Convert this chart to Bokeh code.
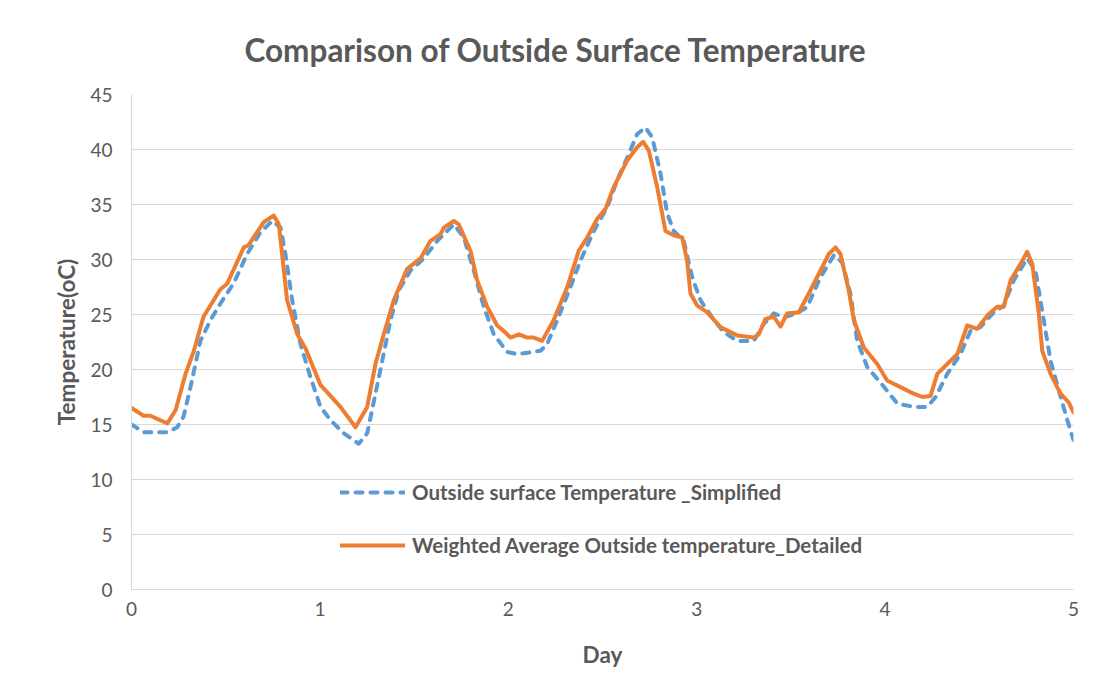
from bokeh.plotting import figure
from bokeh.models import Legend, LegendItem, FixedTicker
from bokeh.embed import file_html
from bokeh.resources import INLINE

# ---- data ----
simp_day = [0.0, 0.064, 0.19, 0.243, 0.276, 0.313, 0.366, 0.419, 0.472, 0.541, 0.614, 0.685, 0.747,
            0.791, 0.817, 0.853, 0.897, 0.950, 1.003, 1.056, 1.127, 1.206, 1.251, 1.295, 1.331, 1.375,
            1.419, 1.481, 1.551, 1.623, 1.711, 1.764, 1.817, 1.870, 1.923, 1.994, 2.047, 2.135, 2.171,
            2.206, 2.260, 2.330, 2.383, 2.454, 2.525, 2.578, 2.640, 2.684, 2.728, 2.764, 2.808, 2.843,
            2.878, 2.931, 2.976, 3.020, 3.091, 3.144, 3.215, 3.303, 3.356, 3.409, 3.462, 3.533, 3.587,
            3.657, 3.729, 3.772, 3.816, 3.852, 3.906, 3.976, 4.065, 4.152, 4.223, 4.268, 4.330, 4.400,
            4.453, 4.506, 4.577, 4.630, 4.683, 4.754, 4.798, 4.842, 4.878, 4.922, 4.967, 5.0]
simp_temp = [15.0, 14.3, 14.3, 14.75, 15.7, 18.4, 22.6, 24.5, 26.0, 27.8, 30.5, 32.5, 33.5,
             32.9, 30.5, 26.3, 22.3, 19.3, 16.6, 15.4, 14.2, 13.25, 14.2, 17.8, 20.8, 24.5,
             27.2, 29.0, 30.1, 31.7, 33.2, 32.0, 29.0, 25.7, 23.2, 21.6, 21.4, 21.6, 21.7,
             22.3, 24.5, 27.5, 29.9, 32.6, 34.75, 37.2, 39.6, 41.4, 42.0, 41.1, 37.8, 34.2,
             32.6, 31.7, 28.4, 26.3, 24.5, 23.4, 22.6, 22.6, 24.15, 25.1, 24.75, 25.1, 25.7,
             28.4, 30.4, 29.75, 26.9, 22.6, 20.2, 18.8, 16.9, 16.6, 16.6, 17.5, 19.6, 21.4,
             23.5, 23.85, 25.2, 25.8, 28.1, 30.1, 29.0, 24.5, 20.8, 18.1, 15.4, 13.6]

det_day = [0.0, 0.064, 0.10, 0.19, 0.234, 0.287, 0.331, 0.382, 0.472, 0.508, 0.596, 0.621, 0.702,
           0.755, 0.782, 0.826, 0.880, 0.924, 1.003, 1.109, 1.189, 1.251, 1.295, 1.339, 1.392, 1.463,
           1.534, 1.587, 1.640, 1.658, 1.711, 1.737, 1.799, 1.835, 1.888, 1.941, 1.976, 2.012, 2.056,
           2.100, 2.135, 2.180, 2.241, 2.313, 2.374, 2.419, 2.472, 2.516, 2.560, 2.631, 2.684, 2.716,
           2.746, 2.790, 2.834, 2.878, 2.923, 2.949, 2.967, 3.003, 3.056, 3.126, 3.179, 3.215, 3.303,
           3.330, 3.365, 3.409, 3.445, 3.480, 3.542, 3.604, 3.657, 3.701, 3.737, 3.763, 3.807, 3.834,
           3.887, 3.958, 4.011, 4.082, 4.152, 4.197, 4.241, 4.277, 4.330, 4.383, 4.436, 4.489, 4.542,
           4.595, 4.630, 4.666, 4.719, 4.754, 4.781, 4.816, 4.834, 4.878, 4.931, 4.975, 5.0]
det_temp = [16.5, 15.8, 15.8, 15.1, 16.3, 19.6, 21.7, 24.8, 27.3, 27.8, 31.1, 31.3, 33.4,
            34.0, 33.2, 26.3, 23.2, 21.9, 18.6, 16.6, 14.75, 16.6, 20.5, 23.2, 26.3, 29.15,
            30.1, 31.7, 32.3, 32.9, 33.5, 33.2, 30.8, 28.1, 25.7, 24.0, 23.5, 22.9, 23.2,
            22.9, 22.9, 22.6, 24.5, 27.5, 30.8, 32.0, 33.7, 34.6, 36.6, 39.0, 40.2, 40.7,
            39.9, 36.6, 32.6, 32.2, 32.0, 29.9, 26.9, 25.8, 25.2, 23.85, 23.4, 23.1, 22.9,
            23.2, 24.6, 24.8, 23.9, 25.1, 25.2, 27.2, 29.0, 30.5, 31.1, 30.5, 27.2, 24.5,
            22.0, 20.5, 19.0, 18.4, 17.8, 17.5, 17.6, 19.6, 20.5, 21.4, 24.0, 23.7, 24.9,
            25.7, 25.7, 28.1, 29.6, 30.7, 29.6, 25.1, 21.7, 19.6, 17.8, 17.0, 16.1]

y_ticks = [0, 5, 10, 15, 20, 25, 30, 35, 40, 45]
x_ticks = [0, 1, 2, 3, 4, 5]
series_names = ["Outside surface Temperature _Simplified",
                "Weighted Average Outside temperature_Detailed"]
title_text = "Comparison of Outside Surface Temperature"

FONT = "Lato"
GREY = "#595959"
GRID = "#d9d9d9"

p = figure(width=1090, height=675, output_backend="svg", toolbar_location=None,
           x_range=(0, 5), y_range=(0, 45),
           min_border_left=131, min_border_right=17, min_border_top=94, min_border_bottom=86)

p.title.text = title_text
p.title.align = "left"
p.title.offset = 113
p.title.text_font = FONT
p.title.text_font_size = "31.5px"
p.title.text_font_style = "bold"
p.title.text_color = GREY
p.title.standoff = 51

p.outline_line_color = None
p.background_fill_color = "white"
p.border_fill_color = "white"

p.xgrid.visible = False
p.ygrid.grid_line_color = GRID
p.ygrid.grid_line_width = 1

for ax in (p.xaxis[0], p.yaxis[0]):
    ax.axis_line_color = GRID
    ax.axis_line_width = 1
    ax.major_tick_line_color = None
    ax.minor_tick_line_color = None
    ax.major_label_text_font = FONT
    ax.major_label_text_font_size = "19px"
    ax.major_label_text_color = GREY
    ax.axis_label_text_font = FONT
    ax.axis_label_text_font_size = "22.5px"
    ax.axis_label_text_font_style = "bold"
    ax.axis_label_text_color = GREY

p.yaxis.ticker = FixedTicker(ticks=y_ticks)
p.xaxis.ticker = FixedTicker(ticks=x_ticks)
p.yaxis.axis_label = "Temperature(oC)"
p.xaxis.axis_label = "Day"
p.yaxis.major_label_standoff = 13
p.xaxis.major_label_standoff = 6
p.yaxis.axis_label_standoff = 7
p.xaxis.axis_label_standoff = 22

r1 = p.line(simp_day, simp_temp, line_color="#5B9BD5", line_width=4, line_dash="7 8",
            line_cap="round", line_join="round")
r2 = p.line(det_day, det_temp, line_color="#ED7D31", line_width=4,
            line_cap="round", line_join="round")

legend = Legend(items=[LegendItem(label=series_names[0], renderers=[r1]),
                       LegendItem(label=series_names[1], renderers=[r2])],
                location=(209, 31), orientation="vertical",
                glyph_width=65, glyph_height=26, label_height=26, spacing=27,
                label_standoff=7, padding=0, margin=0,
                background_fill_alpha=0, border_line_color=None,
                label_text_font=FONT, label_text_font_size="20.5px",
                label_text_font_style="bold", label_text_color=GREY)
p.add_layout(legend, "center")

open("out.html", "w").write(file_html(p, INLINE))
